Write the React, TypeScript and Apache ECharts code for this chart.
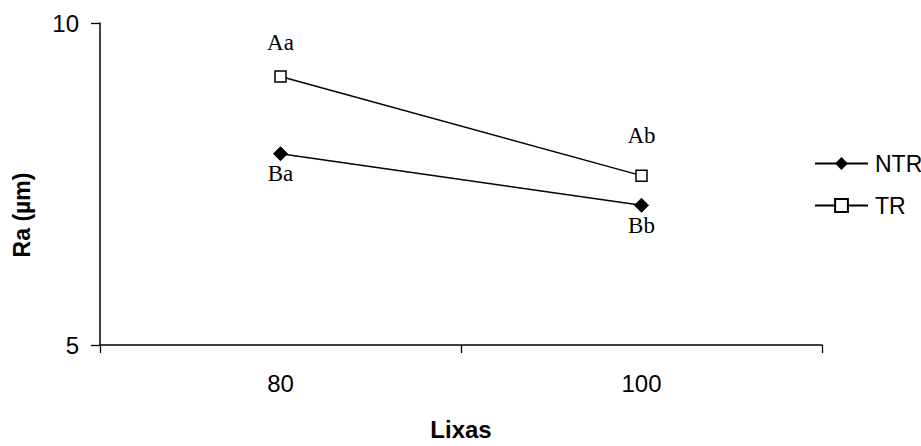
import React, { useEffect, useRef } from "react";
import * as echarts from "echarts";

const categories = ["80", "100"];
const ntrValues = [7.97, 7.17];
const trValues = [9.17, 7.63];
const ntrLabels = ["Ba", "Bb"];
const trLabels = ["Aa", "Ab"];
const trLabelDistances = [16, 22];
const ntrLabelDistances = [1, 1];

export default function App() {
  const ref = useRef<HTMLDivElement>(null);
  useEffect(() => {
    if (!ref.current) return;
    const chart = echarts.init(ref.current, null, { renderer: "svg" });
    const sans = "'Liberation Sans', Arial, sans-serif";
    const serif = "'Liberation Serif', 'Times New Roman', serif";
    chart.setOption({
      animation: false,
      backgroundColor: "#ffffff",
      grid: { left: 100, right: 99, top: 23, bottom: 97, containLabel: false },
      legend: {
        orient: "vertical",
        left: 809,
        top: 147,
        itemWidth: 53,
        itemHeight: 16,
        itemGap: 19,
        textStyle: { fontFamily: sans, fontSize: 23, color: "#000", padding: [0, 0, 0, 2] },
        data: ["NTR", "TR"],
      },
      xAxis: {
        type: "category",
        data: categories,
        boundaryGap: true,
        axisLine: { lineStyle: { color: "#000", width: 1.5 } },
        axisTick: { show: true, length: 8, lineStyle: { color: "#000", width: 1.3 } },
        axisLabel: { fontFamily: sans, fontSize: 24, color: "#000", margin: 26 },
        name: "Lixas",
        nameLocation: "middle",
        nameGap: 72,
        nameTextStyle: { fontFamily: sans, fontSize: 24, fontWeight: "bold", color: "#000" },
        splitLine: { show: false },
      },
      yAxis: {
        type: "value",
        min: 5,
        max: 10,
        interval: 5,
        axisLine: { show: true, lineStyle: { color: "#000", width: 1.5 } },
        axisTick: { show: true, length: 9, lineStyle: { color: "#000", width: 1.3 } },
        axisLabel: { fontFamily: sans, fontSize: 24, color: "#000", margin: 21 },
        splitLine: { show: false },
      },
      graphic: [
        {
          type: "text",
          x: 22,
          y: 215,
          rotation: Math.PI / 2,
          style: {
            text: "Ra (µm)",
            fontFamily: sans,
            fontSize: 23,
            fontWeight: "bold",
            fill: "#000",
            align: "center",
            verticalAlign: "middle",
          },
        },
      ],
      series: [
        {
          name: "NTR",
          type: "line",
          data: ntrValues.map((v, i) => ({
            value: v,
            label: { distance: ntrLabelDistances[i] },
          })),
          symbol: "diamond",
          symbolSize: 14,
          itemStyle: { color: "#000", borderColor: "#000" },
          lineStyle: { color: "#000", width: 1.4 },
          label: {
            show: true,
            position: "bottom",
            formatter: (p: any) => ntrLabels[p.dataIndex],
            fontFamily: serif,
            fontSize: 23,
            color: "#000",
          },
        },
        {
          name: "TR",
          type: "line",
          data: trValues.map((v, i) => ({
            value: v,
            label: { distance: trLabelDistances[i] },
          })),
          symbol: "rect",
          symbolSize: 11,
          itemStyle: { color: "#fff", borderColor: "#000", borderWidth: 1.5 },
          lineStyle: { color: "#000", width: 1.4 },
          label: {
            show: true,
            position: "top",
            formatter: (p: any) => trLabels[p.dataIndex],
            fontFamily: serif,
            fontSize: 23,
            color: "#000",
          },
        },
      ],
    });
    return () => chart.dispose();
  }, []);
  return <div ref={ref} style={{ width: 921, height: 446, position: "absolute", left: 0, top: 0 }} />;
}
